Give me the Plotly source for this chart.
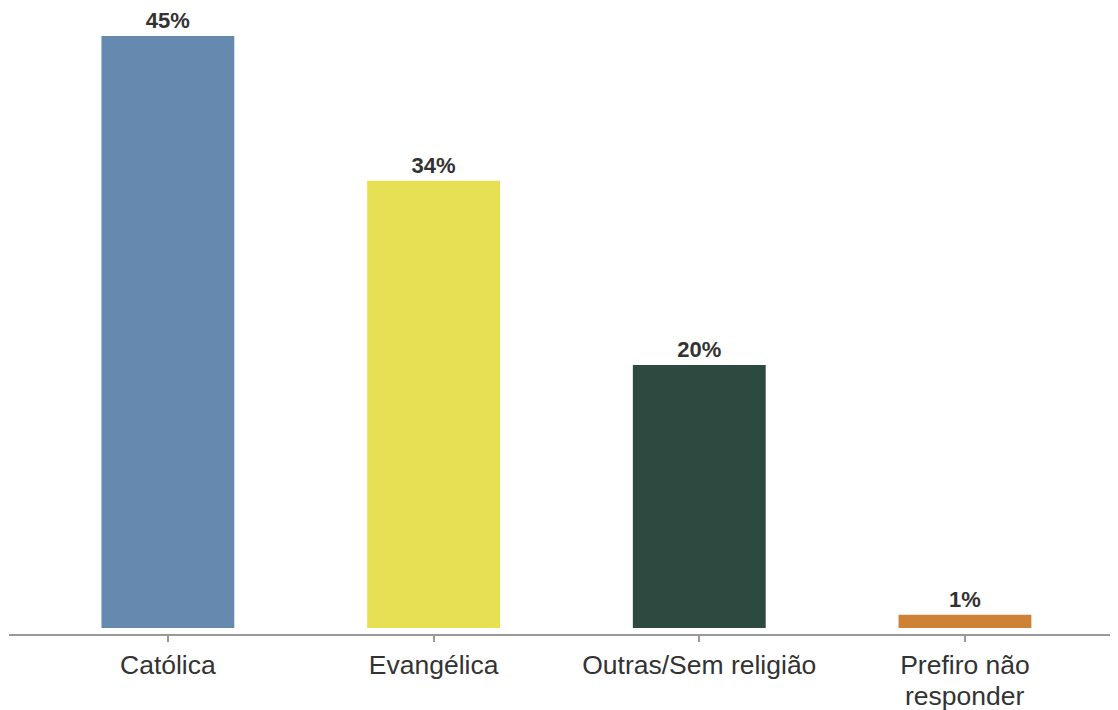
import plotly.graph_objects as go

categories = ["Católica", "Evangélica", "Outras/Sem religião", "Prefiro não"]
category_second_line = ["", "", "", "responder"]
values = [45, 34, 20, 1]
labels = ["45%", "34%", "20%", "1%"]
colors = ["#6689B0", "#E8E054", "#2D4A40", "#CF8236"]

FONT = "Liberation Sans, Arial, sans-serif"
xs = list(range(len(categories)))

fig = go.Figure(go.Bar(
    x=xs,
    y=values,
    width=0.5,
    marker=dict(color=colors, line=dict(width=0)),
    text=labels,
    textposition="outside",
    textfont=dict(family=FONT, size=22, color="#333333", weight="bold"),
    cliponaxis=False,
))

for x, t in zip(xs, category_second_line):
    if t:
        fig.add_annotation(
            x=x, y=0, xref="x", yref="paper", yanchor="top",
            text=t, showarrow=False, yshift=-45,
            font=dict(family=FONT, size=26.5, color="#333333"),
        )

fig.update_layout(
    width=1110, height=702,
    margin=dict(l=1, r=0, t=0, b=76, autoexpand=False),
    plot_bgcolor="white", paper_bgcolor="white",
    showlegend=False,
    font=dict(family=FONT, color="#333333"),
)
fig.update_xaxes(
    range=[-0.598, 3.576],
    tickmode="array", tickvals=xs, ticktext=categories,
    showline=True, linecolor="#999999", linewidth=2,
    ticks="outside", ticklen=6, tickwidth=2, tickcolor="#999999",
    tickfont=dict(family=FONT, size=26.5, color="#333333"),
    showgrid=False, zeroline=False, automargin=False,
)
fig.update_yaxes(range=[-0.456, 47.13], visible=False, showgrid=False, zeroline=False)

fig.write_html("out.html")
